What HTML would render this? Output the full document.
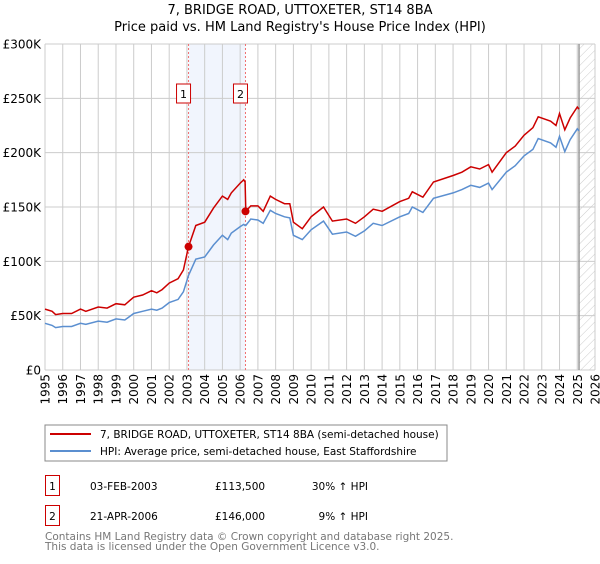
<!DOCTYPE html>
<html><head><meta charset="utf-8"><style>
body{margin:0;background:#fff;font-family:"DejaVu Sans","Liberation Sans",sans-serif;}
svg text{font-family:"DejaVu Sans","Liberation Sans",sans-serif;}
</style></head><body>
<svg id="chart" width="600" height="560" xmlns="http://www.w3.org/2000/svg">
<defs><pattern id="hatch" width="6" height="6" patternUnits="userSpaceOnUse" patternTransform="rotate(45)"><line x1="0" y1="0" x2="0" y2="6" stroke="#ccc" stroke-width="1"/></pattern></defs>
<text x="300" y="14" text-anchor="middle" font-size="13">7, BRIDGE ROAD, UTTOXETER, ST14 8BA</text>
<text x="300" y="31" text-anchor="middle" font-size="13">Price paid vs. HM Land Registry's House Price Index (HPI)</text>
<g id="grid"></g><g id="marks"></g>
<rect x="45" y="425" width="402" height="36" fill="#fff" stroke="#888"/>
<line x1="50" y1="434" x2="91" y2="434" stroke="#cc0000" stroke-width="2"/>
<text x="100" y="438" font-size="10.5">7, BRIDGE ROAD, UTTOXETER, ST14 8BA (semi-detached house)</text>
<line x1="50" y1="451" x2="91" y2="451" stroke="#5b8fd0" stroke-width="2"/>
<text x="100" y="455" font-size="10.5">HPI: Average price, semi-detached house, East Staffordshire</text>
<rect x="45.5" y="475.5" width="14" height="20" fill="#fff" stroke="#cc0000"/>
<text x="52.5" y="490" font-size="10.5" text-anchor="middle">1</text>
<text x="90" y="490" font-size="10.5">03-FEB-2003</text>
<text x="215" y="490" font-size="10.5">£113,500</text>
<text x="368" y="490" font-size="10.5" text-anchor="end">30% ↑ HPI</text>
<rect x="45.5" y="505.5" width="14" height="20" fill="#fff" stroke="#cc0000"/>
<text x="52.5" y="520" font-size="10.5" text-anchor="middle">2</text>
<text x="90" y="520" font-size="10.5">21-APR-2006</text>
<text x="215" y="520" font-size="10.5">£146,000</text>
<text x="368" y="520" font-size="10.5" text-anchor="end">9% ↑ HPI</text>
<text x="45" y="540" font-size="10.5" fill="#777">Contains HM Land Registry data © Crown copyright and database right 2025.</text>
<text x="45" y="550" font-size="10.5" fill="#777">This data is licensed under the Open Government Licence v3.0.</text>
</svg>
<script>
const years=[1995.0,1995.4,1995.6,1996.0,1996.5,1997.0,1997.3,1998.0,1998.5,1999.0,1999.5,2000.0,2000.5,2001.0,2001.3,2001.6,2002.0,2002.5,2002.8,2003.09,2003.5,2004.0,2004.5,2005.0,2005.3,2005.5,2006.0,2006.2,2006.28,2006.32,2006.6,2007.0,2007.3,2007.7,2008.0,2008.5,2008.8,2009.0,2009.5,2010.0,2010.7,2011.2,2012.0,2012.5,2013.0,2013.5,2014.0,2015.0,2015.5,2015.7,2016.3,2016.9,2018.0,2018.5,2019.0,2019.5,2020.0,2020.2,2021.0,2021.5,2022.0,2022.5,2022.8,2023.5,2023.8,2024.0,2024.3,2024.6,2025.0,2025.1];
const hpiValues=[43,41,39,40,40,43,42,45,44,47,46,52,54,56,55,57,62,65,72,87,102,104,115,124,120,126,132,134,133,133,139,138,135,147,144,141,140,124,120,129,137,125,127,123,128,135,133,141,144,150,145,158,163,166,170,168,172,166,182,188,197,203,213,209,205,215,201,212,222,220];
const propertyValues=[56,54,51,52,52,56,54,58,57,61,60,67,69,73,71,74,80,84,92,113.5,133,136,149,160,157,163,172,175,173,146,151,151,146,160,157,153,153,136,130,141,150,137,139,135,141,148,146,155,158,164,159,173,179,182,187,185,189,182,200,206,216,223,233,229,225,236,221,232,242,240];
const yTicks=[0,50,100,150,200,250,300];
const yTickLabels=["£0","£50K","£100K","£150K","£200K","£250K","£300K"];
const xTicks=[1995,1996,1997,1998,1999,2000,2001,2002,2003,2004,2005,2006,2007,2008,2009,2010,2011,2012,2013,2014,2015,2016,2017,2018,2019,2020,2021,2022,2023,2024,2025,2026];
const sales=[{n:"1",year:2003.09,value:113.5},{n:"2",year:2006.3,value:146}];
const dataEnd=2025.1;
const X=y=>45+(y-1995)*(550/31);
const Y=v=>370-v*(326/300);
const NS="http://www.w3.org/2000/svg";
function mk(tag,attrs,parent){const e=document.createElementNS(NS,tag);for(const k in attrs)e.setAttribute(k,attrs[k]);parent.appendChild(e);return e;}
const grid=document.getElementById('grid'),marks=document.getElementById('marks');
let sh=mk('rect',{x:X(sales[0].year),y:44,width:X(sales[1].year)-X(sales[0].year),height:326,fill:'#eef3fc',opacity:0.8},grid);


let ht=mk('rect',{x:X(dataEnd),y:44,width:X(2026)-X(dataEnd),height:326,fill:'url(#hatch)'},grid);


xTicks.forEach(t=>{
  const l=mk('line',{x1:X(t),x2:X(t),y1:44,y2:370,stroke:'#ccc','stroke-width':1},grid);
  
  
  const tx=mk('text',{x:0,y:0,'font-size':12,'text-anchor':'end',transform:`translate(${X(t)+4.5},374) rotate(-90)`},grid);
  tx.textContent=t;
  
  
});
yTicks.forEach((t,i)=>{
  const l=mk('line',{x1:45,x2:595,y1:Y(t),y2:Y(t),stroke:'#ccc','stroke-width':1},grid);
  
  
  const tx=mk('text',{x:41,y:Y(t)+4.5,'font-size':12,'text-anchor':'end'},grid);
  tx.textContent=yTickLabels[i];
  
  
});
const el=mk('line',{x1:X(dataEnd),x2:X(dataEnd),y1:44,y2:370,stroke:'#999','stroke-width':1.5},grid);


sales.forEach(s=>{
  const l=mk('line',{x1:X(s.year),x2:X(s.year),y1:44,y2:370,stroke:'#f07070','stroke-width':1,'stroke-dasharray':'2,2'},marks);
  
  
  const b=mk('rect',{x:X(s.year)-12,y:84,width:14,height:19,fill:'#fff',stroke:'#cc0000'},marks);
  
  
  const t=mk('text',{x:X(s.year)-5,y:98,'font-size':11,'text-anchor':'middle'},marks);
  t.textContent=s.n;
  
  
});
const path=v=>years.map((y,i)=>(i?'L':'M')+X(y).toFixed(1)+','+Y(v[i]).toFixed(1)).join('');
const hp=mk('path',{d:path(hpiValues),fill:'none',stroke:'#5b8fd0','stroke-width':1.5},marks);


const pp=mk('path',{d:path(propertyValues),fill:'none',stroke:'#cc0000','stroke-width':1.5},marks);


sales.forEach(s=>{
  const c=mk('circle',{cx:X(s.year),cy:Y(s.value),r:4,fill:'#cc0000'},marks);
  
  
});
</script>
</body></html>
